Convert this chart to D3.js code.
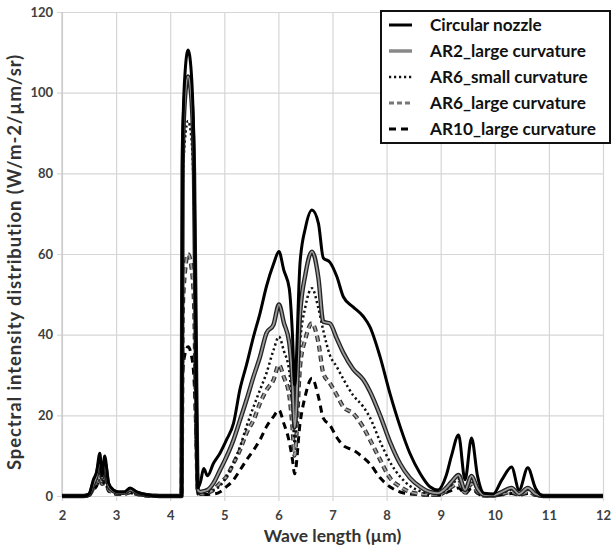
<!DOCTYPE html>
<html>
<head>
<meta charset="utf-8">
<script src="https://cdn.jsdelivr.net/npm/d3@7"></script>
<style>
  body { margin: 0; background: #fff; }
  text { font-family: Lato, "Open Sans", sans-serif; font-weight: bold; }
</style>
</head>
<body>
<div id="d3-container"></div>
<script>
/** DATA */
// wavelength (µm)
const wave = [2.0, 2.4, 2.5, 2.58, 2.64, 2.7, 2.74, 2.79, 2.86, 2.95, 3.05, 3.15, 3.26, 3.38, 3.57, 3.8, 4.0,
  4.21, 4.23, 4.27, 4.33, 4.39, 4.44, 4.48, 4.51, 4.56, 4.62, 4.69, 4.8, 4.92, 5.04, 5.17, 5.29, 5.41, 5.54,
  5.66, 5.78, 5.91, 6.01, 6.1, 6.2, 6.26, 6.3, 6.4, 6.5, 6.62, 6.74, 6.83, 6.95, 7.08, 7.2, 7.38, 7.57, 7.69,
  7.88, 8.06, 8.25, 8.43, 8.62, 8.8, 8.95, 9.1, 9.2, 9.33, 9.45, 9.57, 9.68, 9.8, 9.97, 10.13, 10.31, 10.45,
  10.61, 10.75, 10.9, 11.0, 12.0];

const circular = [0, 0, 0.5, 4, 6, 10.6, 5, 9.9, 3.2, 1.5, 1, 1, 2, 1, 0.3, 0, 0,
  0, 88, 104, 110.6, 105, 85, 30, 2, 3.5, 6.8, 5, 8.1, 10.6, 13.9, 18, 26.5, 32.5, 39.5,
  45.3, 52, 57.5, 60.6, 56, 51.5, 40, 27.5, 57.8, 66.5, 70.9, 67.6, 59, 58, 54.4, 49.4, 46.9, 44.5, 42,
  34.5, 25.5, 17.2, 10.6, 5.6, 2.3, 1.5, 5, 10, 15.1, 4, 14.4, 5, 0.7, 0.5, 4, 7.2, 1.5,
  7, 2, 0, 0, 0];

const ar2Large = [0, 0, 0.3, 3, 5, 8.5, 4.5, 8, 2.5, 1.2, 0.8, 0.8, 1.6, 0.8, 0.2, 0, 0,
  0, 82, 98, 104, 99, 80, 28, 1.5, 1, 1.2, 1.5, 3.2, 6.4, 9.7, 13.9, 18.8, 23.8, 29.6,
  34.5, 40.4, 42.5, 47.5, 43, 38, 28, 17, 45, 55, 60.6, 54, 43.2, 42.8, 39, 35.5, 31.5, 28.8, 26,
  20, 13.5, 8, 4.5, 2.3, 1, 0.7, 2, 3.5, 5.2, 1.5, 5, 1.8, 0.3, 0.2, 1, 2, 0.5,
  2, 0.5, 0, 0, 0];

const ar6Small = [0, 0, 0.2, 2.5, 4, 7.5, 3.5, 7, 2, 1, 0.6, 0.6, 1.3, 0.6, 0.1, 0, 0,
  0, 75, 88, 93, 89, 72, 25, 1, 0.5, 0.8, 1, 1.5, 2.5, 4.8, 8.1, 12.2, 17.2, 22.1,
  26.3, 30.5, 36.2, 39.5, 36, 31, 22, 13, 38, 47, 51.5, 46.5, 41, 35, 32, 29, 25, 22.1, 19.5,
  13.5, 8.5, 4.8, 2.5, 1.2, 0.6, 0.5, 1.5, 2.8, 4.2, 1.2, 4, 1.4, 0.2, 0.1, 0.7, 1.5, 0.4,
  1.5, 0.4, 0, 0, 0];

const ar6Large = [0, 0, 0.2, 2, 3.5, 6, 3, 5.5, 1.6, 0.8, 0.5, 0.5, 1, 0.5, 0.1, 0, 0,
  0, 45, 55, 60, 57, 48, 18, 1, 0.5, 0.6, 0.8, 1.5, 3.2, 4.8, 8.1, 11.4, 15.6, 18.8,
  23, 26.3, 28.8, 32.5, 29.5, 25, 17, 10, 32, 39, 42.8, 38, 30.4, 28, 25, 22.1, 20.5, 17, 14,
  9, 4.5, 2.3, 1, 0.5, 0.3, 0.3, 1.2, 2.2, 3.2, 0.8, 3, 1, 0.1, 0.1, 0.5, 1, 0.3,
  1, 0.3, 0, 0, 0];

const ar10Large = [0, 0, 0.1, 1.5, 2.5, 4.5, 2.2, 4, 1.2, 0.6, 0.4, 0.4, 0.8, 0.4, 0.1, 0, 0,
  0, 30, 35, 37, 35, 29, 12, 0.5, 0.3, 0.4, 0.4, 0.5, 1, 2.3, 4, 6.4, 8.9, 11.4,
  13.9, 17.2, 19.7, 21.3, 18, 13.5, 9, 5.5, 18, 25, 29.2, 24.6, 19.3, 17.6, 14.5, 12.5, 11.4, 9.5, 8,
  4.5, 2.3, 1, 0.5, 0.3, 0.2, 0.2, 0.8, 1.4, 2, 0.5, 1.9, 0.6, 0.1, 0, 0.3, 0.6, 0.2,
  0.6, 0.2, 0, 0, 0];

const seriesNames = ["Circular nozzle", "AR2_large curvature", "AR6_small curvature",
  "AR6_large curvature", "AR10_large curvature"];
const xTicks = [2, 3, 4, 5, 6, 7, 8, 9, 10, 11, 12];
const yTicks = [0, 20, 40, 60, 80, 100, 120];

/** CONSTANTS */
const width = 612,
  height = 553,
  margin = { top: 12, bottom: 57, left: 62, right: 9 };

// styles for each series: under = dark outline, over = main stroke
const styles = [
  { over: { color: "#000", w: 3, dash: null } },
  { under: { color: "#222", w: 4.4, dash: null }, over: { color: "#9a9a9a", w: 1.8, dash: null }, legend: { color: "#888", w: 3.5, dash: null } },
  { over: { color: "#111", w: 2.5, dash: "2.2,2.8" } },
  { under: { color: "#333", w: 4.2, dash: "6,4" }, over: { color: "#a0a0a0", w: 1.8, dash: "6,4" }, legend: { color: "#777", w: 3.2, dash: "5,3" } },
  { over: { color: "#000", w: 3, dash: "7,5" } }
];

const data = [circular, ar2Large, ar6Small, ar6Large, ar10Large].map((vals, i) => ({
  name: seriesNames[i],
  values: d3.zip(wave, vals),
  style: styles[i]
}));

/** SCALES */
const xScale = d3.scaleLinear()
  .domain([2, 12])
  .range([margin.left, width - margin.right]);

const yScale = d3.scaleLinear()
  .domain([0, 120])
  .range([height - margin.bottom, margin.top]);

/** MAIN CODE */
const svg = d3.select("#d3-container")
  .append("svg")
  .attr("width", width)
  .attr("height", height);

const plotH = height - margin.top - margin.bottom,
  plotW = width - margin.left - margin.right;

// grid lines (with little ticks hanging outside)
svg.append("g")
  .attr("transform", `translate(0, ${height - margin.bottom})`)
  .call(d3.axisBottom(xScale).tickValues(xTicks).tickSizeOuter(0).tickFormat(""))
  .call(g => g.select(".domain").remove())
  .call(g => g.selectAll("line").attr("stroke", "#d6d6d6").attr("stroke-width", 1.2).attr("y1", -plotH).attr("y2", 5));

svg.append("g")
  .attr("transform", `translate(${margin.left}, 0)`)
  .call(d3.axisLeft(yScale).tickValues(yTicks).tickSizeOuter(0).tickFormat(""))
  .call(g => g.select(".domain").remove())
  .call(g => g.selectAll("line").attr("stroke", "#d6d6d6").attr("stroke-width", 1.2).attr("x1", plotW).attr("x2", -5));

// axis line on the left
svg.append("line")
  .attr("x1", margin.left).attr("x2", margin.left)
  .attr("y1", margin.top).attr("y2", height - margin.bottom)
  .attr("stroke", "#c8c8c8").attr("stroke-width", 1.2);

// tick labels
svg.append("g")
  .attr("transform", `translate(0, ${height - margin.bottom})`)
  .call(d3.axisBottom(xScale).tickValues(xTicks).tickSize(0).tickPadding(15))
  .call(g => g.select(".domain").remove())
  .call(g => g.selectAll("text").attr("fill", "#404040").style("font-size", "13px"));

svg.append("g")
  .attr("transform", `translate(${margin.left}, 0)`)
  .call(d3.axisLeft(yScale).tickValues(yTicks).tickSize(0).tickPadding(9))
  .call(g => g.select(".domain").remove())
  .call(g => g.selectAll("text").attr("fill", "#404040").style("font-size", "13px"));

// lines
const line = d3.line()
  .x(d => xScale(d[0]))
  .y(d => yScale(d[1]))
  .curve(d3.curveMonotoneX);

const drawOrder = [4, 3, 2, 1, 0];
drawOrder.forEach(i => {
  const s = data[i];
  ["under", "over"].forEach(k => {
    const st = s.style[k];
    if (!st) return;
    svg.append("path")
      .datum(s.values)
      .attr("d", line)
      .attr("fill", "none")
      .attr("stroke", st.color)
      .attr("stroke-width", st.w)
      .attr("stroke-dasharray", st.dash)
      .attr("stroke-linejoin", "round");
  });
});

// axis titles
svg.append("text")
  .attr("x", (margin.left + width - margin.right) / 2)
  .attr("y", 542)
  .attr("text-anchor", "middle")
  .attr("fill", "#333")
  .style("font-size", "17.5px")
  .text("Wave length (µm)");

svg.append("text")
  .attr("transform", `translate(21, 262) rotate(-90)`)
  .attr("text-anchor", "middle")
  .attr("fill", "#333")
  .style("font-size", "18.5px")
  .style("letter-spacing", "0.9px")
  .text("Spectral intensity distribution (W/m-2/µm/sr)");

// legend
const legend = svg.append("g");
legend.append("rect")
  .attr("x", 381).attr("y", 11)
  .attr("width", 229).attr("height", 132)
  .attr("fill", "#fff")
  .attr("stroke", "#111")
  .attr("stroke-width", 2);

const rowY = d3.scalePoint().domain(seriesNames).range([25, 129]);

data.forEach(s => {
  const y = rowY(s.name);
  const st = s.style.legend || s.style.over;
  legend.append("line")
    .attr("x1", 389).attr("x2", 412)
    .attr("y1", y).attr("y2", y)
    .attr("stroke", st.color)
    .attr("stroke-width", st.w)
    .attr("stroke-dasharray", st.dash);
  legend.append("text")
    .attr("x", 430)
    .attr("y", y + 6)
    .attr("fill", "#111")
    .style("font-size", "17.2px")
    .text(s.name);
});
</script>
</body>
</html>
